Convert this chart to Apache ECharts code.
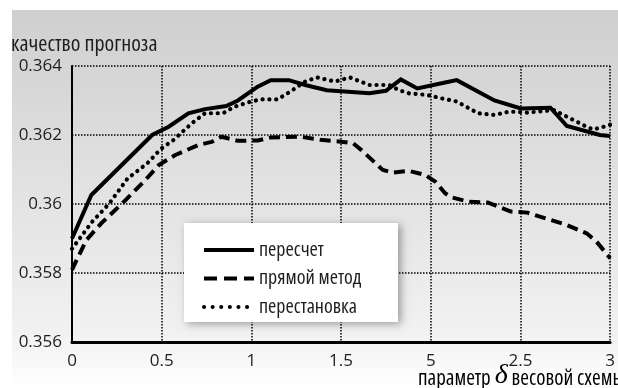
<!DOCTYPE html>
<html>
<head>
<meta charset="utf-8">
<script src="https://cdn.jsdelivr.net/npm/echarts@6/dist/echarts.min.js"></script>
<style>
  html, body { margin: 0; padding: 0; background: #fff; }
  #chart { width: 618px; height: 388px; }
</style>
</head>
<body>
<div id="chart"></div>
<script>
// Forecast quality vs. the weighting-scheme parameter δ
const seriesNames = ['пересчет', 'прямой метод', 'перестановка'];
const xTickLabels = ['0', '0.5', '1', '1.5', '5', '2.5', '3'];
const yTickLabels = ['0.356', '0.358', '0.36', '0.362', '0.364'];

// [δ, quality] pairs for each method
const recount = [
  [0, 0.3590], [0.108, 0.36026], [0.447, 0.3620], [0.539, 0.36224], [0.649, 0.36263],
  [0.741, 0.36275], [0.86, 0.36284], [0.925, 0.3630], [1.035, 0.3634], [1.108, 0.36359],
  [1.209, 0.36359], [1.30, 0.36345], [1.42, 0.3633], [1.658, 0.36321], [1.75, 0.36328],
  [1.833, 0.36361], [1.925, 0.36335], [2.08, 0.36352], [2.145, 0.36359], [2.355, 0.3630],
  [2.502, 0.36277], [2.667, 0.36279], [2.759, 0.36226], [2.943, 0.3620], [3, 0.36197]
];
const direct = [
  [0, 0.35809], [0.026, 0.35838], [0.081, 0.35896], [0.163, 0.35944], [0.30, 0.36012],
  [0.41, 0.3607], [0.484, 0.36113], [0.576, 0.36142], [0.704, 0.36171], [0.778, 0.3618],
  [0.833, 0.36195], [0.925, 0.36183], [1.035, 0.36184], [1.108, 0.36193], [1.273, 0.36195],
  [1.383, 0.36186], [1.512, 0.3618], [1.567, 0.36176], [1.612, 0.36157], [1.732, 0.36099],
  [1.787, 0.36091], [1.878, 0.36096], [1.97, 0.36084], [2.025, 0.36065], [2.08, 0.36031],
  [2.117, 0.36019], [2.209, 0.36007], [2.319, 0.36004], [2.447, 0.35978], [2.539, 0.35975],
  [2.667, 0.35954], [2.759, 0.35939], [2.869, 0.35915], [2.924, 0.35891], [3, 0.35843]
];
const permutation = [
  [0, 0.3587], [0.108, 0.35946], [0.209, 0.36002], [0.31, 0.36074], [0.42, 0.36118],
  [0.494, 0.36159], [0.567, 0.36186], [0.668, 0.36234], [0.741, 0.36263], [0.842, 0.36263],
  [0.906, 0.36282], [0.998, 0.36297], [1.053, 0.36303], [1.145, 0.36303], [1.218, 0.36326],
  [1.30, 0.36355], [1.365, 0.36367], [1.466, 0.36355], [1.548, 0.36367], [1.658, 0.36345],
  [1.768, 0.36345], [1.823, 0.3633], [1.878, 0.36321], [1.98, 0.36316], [2.062, 0.36306],
  [2.145, 0.36297], [2.264, 0.36263], [2.355, 0.36258], [2.438, 0.36268], [2.539, 0.36265],
  [2.686, 0.36272], [2.759, 0.36253], [2.869, 0.36224], [2.906, 0.36216], [2.98, 0.36226],
  [3, 0.3623]
];

// Open Sans is a variable font; its width axis is reached through the CSS font shorthand
const FAMILY = "'Open Sans', 'Liberation Sans', sans-serif";
const TEXT = '#1e1e1e';
const tickFont = { fontSize: 17, fontFamily: FAMILY, color: TEXT };
const legendFont = { fontSize: 20, fontFamily: FAMILY, fontWeight: 'semi-condensed', color: TEXT };

const chart = echarts.init(document.getElementById('chart'), null, { renderer: 'canvas' });

const gridDots = { color: '#000', width: 1.5, type: [1.5, 1.5] };

chart.setOption({
  animation: false,
  backgroundColor: '#ffffff',
  grid: { left: 72, right: 0, top: 66, bottom: 46, containLabel: false },
  xAxis: {
    type: 'value', min: 0, max: 3, interval: 0.5,
    axisLine: { show: true, onZero: false, lineStyle: { color: '#000', width: 3 } },
    axisTick: { show: false },
    splitLine: { show: true, lineStyle: gridDots },
    axisLabel: Object.assign({
      margin: 11,
      formatter: v => xTickLabels[Math.round(v / 0.5)]
    }, tickFont)
  },
  yAxis: {
    type: 'value', min: 0.356, max: 0.364, interval: 0.002,
    axisLine: { show: true, lineStyle: { color: '#000', width: 2 } },
    axisTick: { show: false },
    splitLine: { show: true, lineStyle: gridDots },
    axisLabel: Object.assign({
      margin: 10, padding: [14, 0, 0, 0],
      formatter: v => yTickLabels[Math.round((v - 0.356) / 0.002)]
    }, tickFont)
  },
  legend: {
    orient: 'vertical', left: 197, top: 235, z: 6,
    itemWidth: 50, itemHeight: 20, itemGap: 8.5, itemTextGap: 11,
    textStyle: Object.assign({ lineHeight: 20 }, legendFont),
    itemStyle: { opacity: 0 },
    data: [
      { name: seriesNames[0], lineStyle: { width: 4 } },
      { name: seriesNames[1], lineStyle: { width: 4, type: [13, 7] } },
      { name: seriesNames[2], lineStyle: { width: 4, type: [0.1, 8.5], cap: 'round' } }
    ]
  },
  graphic: [
    {
      type: 'rect', z: -10, silent: true,
      shape: { x: 12, y: 10, width: 606, height: 378 },
      style: {
        fill: new echarts.graphic.LinearGradient(0, 0, 0, 1, [
          { offset: 0, color: '#cfcfcf' },
          { offset: 0.85, color: '#f1f1f1' },
          { offset: 1, color: '#ffffff' }
        ])
      }
    },
    {
      type: 'rect', z: 5, silent: true,
      shape: { x: 184, y: 223, width: 214, height: 99 },
      style: { fill: '#ffffff', shadowBlur: 8, shadowOffsetX: 3, shadowOffsetY: 2, shadowColor: 'rgba(0,0,0,0.35)' }
    },
    {
      type: 'text', z: 5, left: 11, top: 34, silent: true,
      style: { text: 'качество прогноза', fill: TEXT, font: "semi-condensed 22px " + FAMILY }
    },
    {
      type: 'text', z: 5, left: 418, top: 362, silent: true,
      style: {
        text: '{n|параметр }{d|δ}{n| весовой схемы}',
        rich: {
          n: { fontSize: 21, fontFamily: FAMILY, fontWeight: 'condensed', color: TEXT, verticalAlign: 'bottom' },
          d: { fontSize: 28, fontFamily: "'Liberation Serif', 'DejaVu Serif', serif", fontStyle: 'italic', color: TEXT, verticalAlign: 'bottom' }
        }
      }
    }
  ],
  series: [
    {
      name: seriesNames[0], type: 'line', data: recount, symbol: 'none', z: 2,
      lineStyle: { color: '#000', width: 4, type: 'solid', join: 'miter' },
      itemStyle: { color: '#000' }
    },
    {
      name: seriesNames[1], type: 'line', data: direct, symbol: 'none', z: 2,
      lineStyle: { color: '#000', width: 4, type: [11, 6], cap: 'butt' },
      itemStyle: { color: '#000' }
    },
    {
      name: seriesNames[2], type: 'line', data: permutation, symbol: 'none', z: 2,
      lineStyle: { color: '#000', width: 4.2, type: [0.1, 6.7], cap: 'round' },
      itemStyle: { color: '#000' }
    }
  ]
});
</script>
</body>
</html>
